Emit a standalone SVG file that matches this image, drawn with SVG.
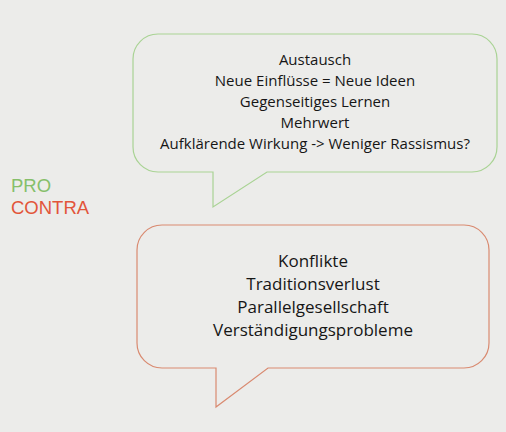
<svg xmlns="http://www.w3.org/2000/svg" width="506" height="432" viewBox="0 0 506 432">
<style>
.t{font-family:"Open Sans","Noto Sans",sans-serif;fill:#161616;text-anchor:middle}
.b{fill:#ececea;stroke-width:1.2}
.l{font-family:"Liberation Sans",Arial,sans-serif;font-size:18.5px}
</style>
<rect width="506" height="432" fill="#ececea"/>
<g id="labels">
<text class="l" x="11" y="192" fill="#86bf6a">PRO</text>
<text class="l" x="11" y="214" fill="#e2553a">CONTRA</text>
</g>
<g id="pro">
<path class="b" stroke="#a9d394" d="M158 34 H472 A25 25 0 0 1 497 59 V147 A25 25 0 0 1 472 172 H267 L213 207 V172 H158 A25 25 0 0 1 133 147 V59 A25 25 0 0 1 158 34 Z"/>
<g class="t" font-size="15">
<text x="315" y="65">Austausch</text>
<text x="315" y="86">Neue Einflüsse = Neue Ideen</text>
<text x="315" y="107">Gegenseitiges Lernen</text>
<text x="315" y="128">Mehrwert</text>
<text x="315" y="149">Aufklärende Wirkung -&gt; Weniger Rassismus?</text>
</g>
</g>
<g id="contra">
<path class="b" stroke="#d98a70" d="M162 225 H464 A25 25 0 0 1 489 250 V343 A25 25 0 0 1 464 368 H268 L216 407 V368 H162 A25 25 0 0 1 137 343 V250 A25 25 0 0 1 162 225 Z"/>
<g class="t" font-size="17">
<text x="313" y="267">Konflikte</text>
<text x="313" y="290">Traditionsverlust</text>
<text x="313" y="313">Parallelgesellschaft</text>
<text x="313" y="336">Verständigungsprobleme</text>
</g>
</g>
</svg>
